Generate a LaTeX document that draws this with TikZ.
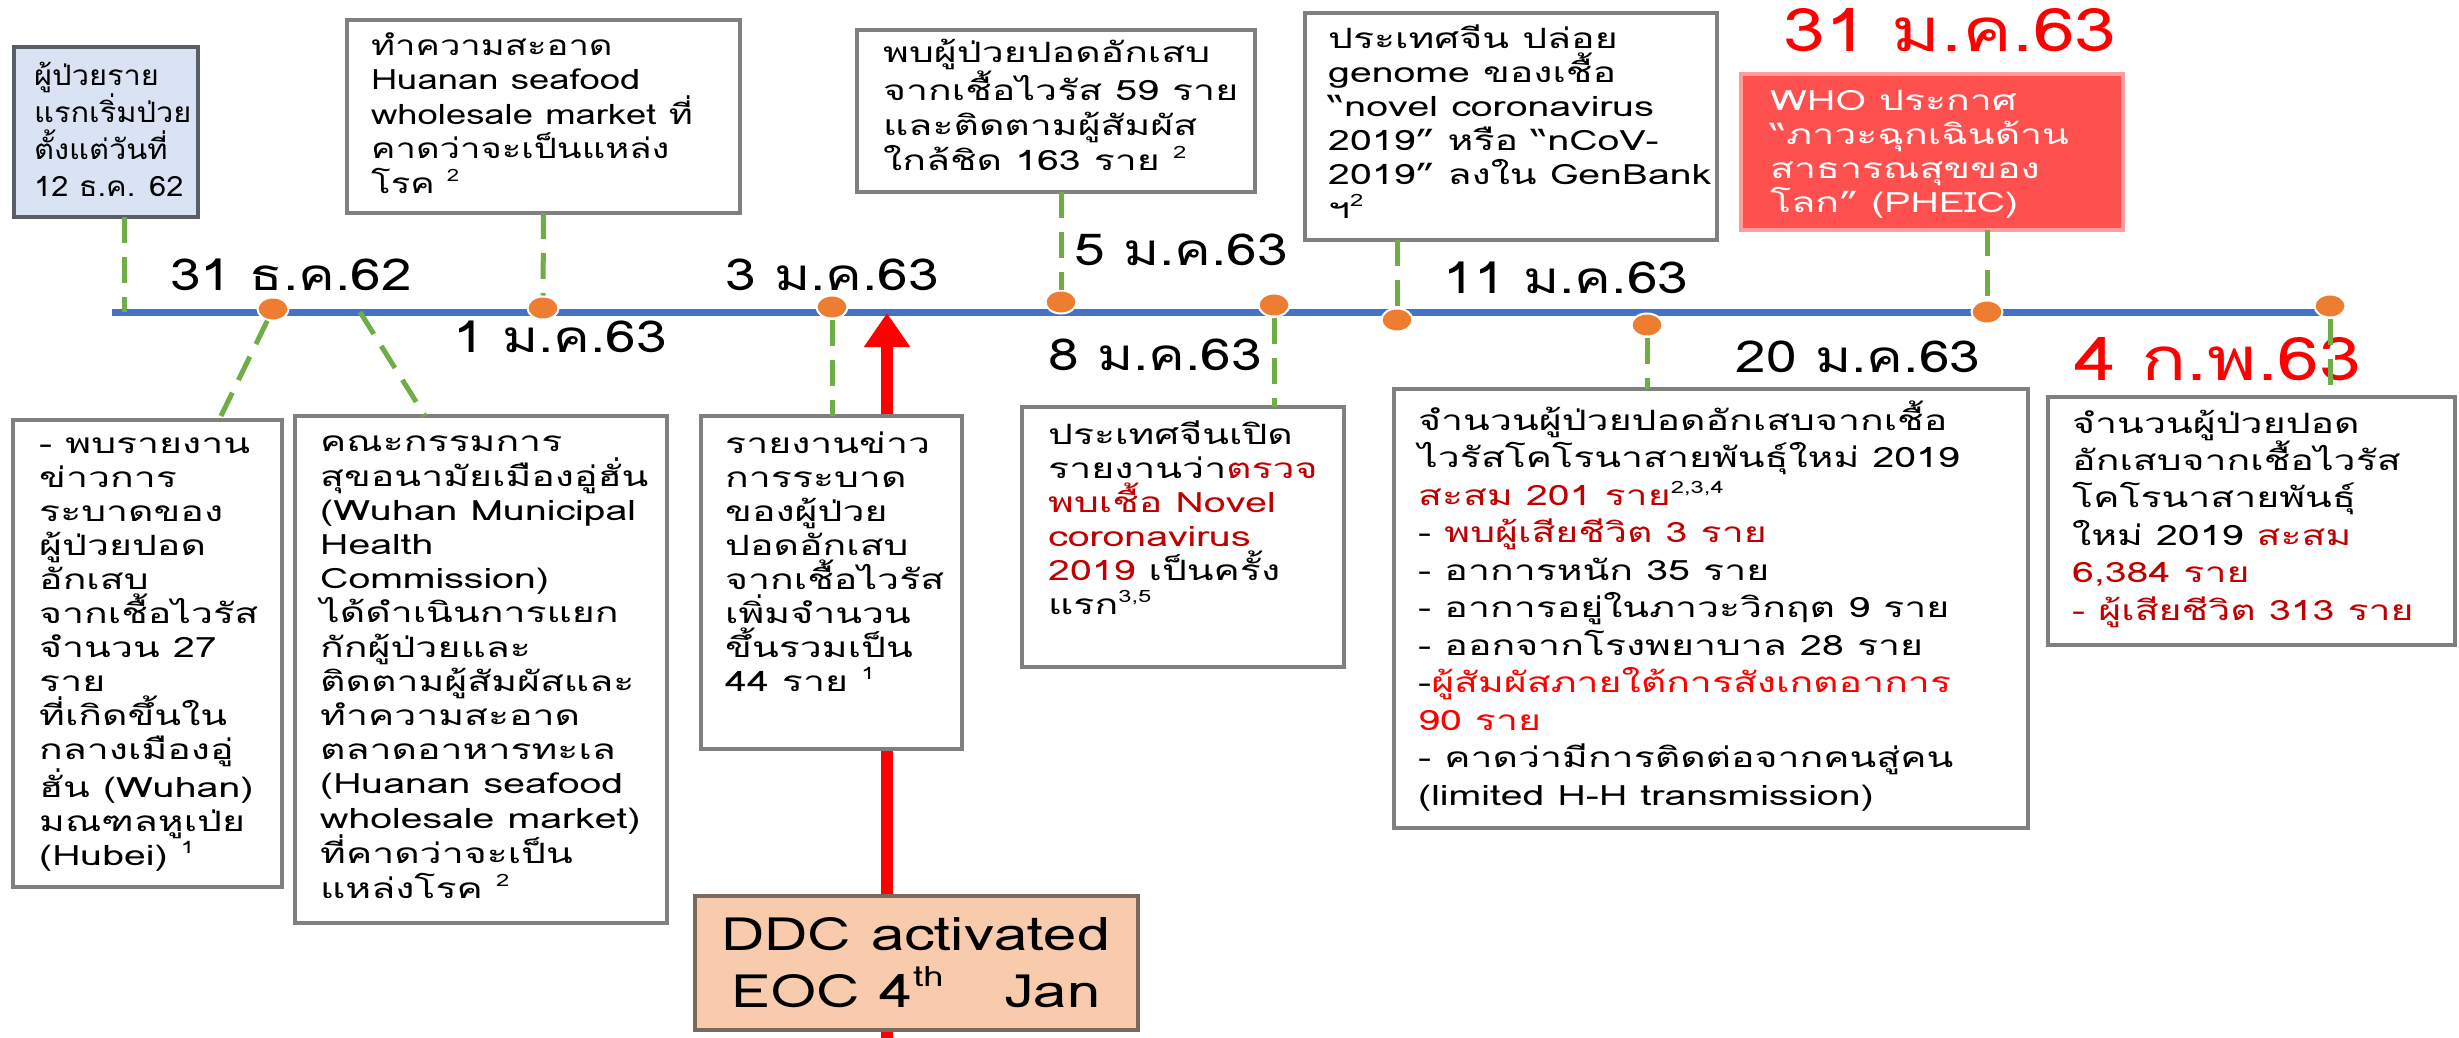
\documentclass[tikz,border=0pt]{standalone}
\usepackage{fontspec}
\setmainfont[Script=Thai,FakeStretch=1.4]{Loma}
\newfontfamily\datefont[Script=Thai,FakeStretch=1.25]{Loma}
\newfontfamily\ddcfont[FakeStretch=1.3]{Loma}
\newfontfamily\tonefont[Script=Thai,FakeStretch=1.1]{Loma}
\newfontfamily\ttwofont[Script=Thai,FakeStretch=1.3]{Loma}
\usetikzlibrary{arrows.meta,shapes.geometric}
\definecolor{tlblue}{HTML}{4472C4}
\definecolor{dotor}{HTML}{ED7D31}
\definecolor{gline}{HTML}{70AD47}
\definecolor{bgray}{HTML}{808080}
\definecolor{bdark}{HTML}{5A5E66}
\definecolor{bluefill}{HTML}{DAE3F3}
\definecolor{whofill}{HTML}{FF5050}
\definecolor{whoedge}{HTML}{FF9C9C}
\definecolor{ddcfill}{HTML}{F8CBAD}
\definecolor{ddcedge}{HTML}{7A6A5E}
\definecolor{dred}{HTML}{C00000}
\definecolor{bred}{HTML}{FF0000}
\newcommand\supx[1]{\raisebox{0.42em}{\fontsize{17}{17}\selectfont #1}}
\begin{document}
\begin{tikzpicture}[x=1pt,y=-1pt,
  frame/.style={draw=bgray, line width=4pt, fill=white, inner sep=0pt, outer sep=0pt, anchor=north west},
  btxt/.style={anchor=base west, inner sep=0pt, align=left, font=\fontsize{28}{34.2}\selectfont},
  datel/.style={anchor=base, inner sep=0pt, font=\datefont\fontsize{44}{44}\selectfont},
  bigdate/.style={anchor=base, inner sep=0pt, text=bred, font=\datefont\fontsize{60}{60}\selectfont},
  tdot/.style={ellipse, fill=dotor, draw=white, line width=2pt, minimum width=31pt, minimum height=23pt, inner sep=0pt},
  gdash/.style={draw=gline, line width=5pt, dash pattern=on 26pt off 14pt},
  tline/.style={draw=tlblue, line width=7pt},
  redarrow/.style={draw=bred, line width=12pt, -{Triangle[length=34pt,width=44pt]}}
]
\useasboundingbox[fill=white] (0,0) rectangle (2459,1038);
% timeline
\coordinate (tl0) at (112,312);
\coordinate (tl1) at (2330,312);
\draw[tline] (tl0) -- (tl1);
% red arrow
\coordinate (afoot) at (887,1045);
\coordinate (atip) at (887,313);
\draw[redarrow] (afoot) -- (atip);
% dots
\node[tdot] (d1) at (273,309) {};
\node[tdot] (d2) at (543,308) {};
\node[tdot] (d3) at (832,307) {};
\node[tdot] (d4) at (1061,302) {};
\node[tdot] (d5) at (1274,305) {};
\node[tdot] (d6) at (1397,320) {};
\node[tdot] (d7) at (1647,325) {};
\node[tdot] (d8) at (1987,312) {};
\node[tdot] (d9) at (2330,306) {};
% top boxes (base anchor = last line baseline)
\node[frame, fill=bluefill, draw=bdark, minimum width=184pt, minimum height=170pt] (T1) at (14,47) {};
\node[btxt, font=\tonefont\fontsize{28}{37}\selectfont] (T1t) at (34,196) {ผู้ป่วยราย\\แรกเริ่มป่วย\\ตั้งแต่วันที่\\12 ธ.ค. 62};
\node[frame, minimum width=393pt, minimum height=193pt] (T2) at (347,20) {};
\node[btxt, font=\ttwofont\fontsize{28}{34.5}\selectfont] (T2t) at (371,193) {ทำความสะอาด\\Huanan seafood\\wholesale market ที่\\คาดว่าจะเป็นแหล่ง\\โรค \supx{2}};
\node[frame, minimum width=398pt, minimum height=162pt] (T3) at (857,30) {};
\node[btxt, font=\fontsize{28}{35}\selectfont] (T3t) at (883,170) {พบผู้ป่วยปอดอักเสบ\\จากเชื้อไวรัส 59 ราย\\และติดตามผู้สัมผัส\\ใกล้ชิด 163 ราย \supx{2}};
\node[frame, minimum width=412pt, minimum height=227pt] (T4) at (1305,13) {};
\node[btxt, font=\fontsize{28}{34}\selectfont] (T4t) at (1328,218) {ประเทศจีน ปล่อย\\genome ของเชื้อ\\“novel coronavirus\\2019” หรือ “nCoV-\\2019” ลงใน GenBank\\ฯ\supx{2}};
\node[frame, fill=whofill, draw=whoedge, minimum width=382pt, minimum height=156pt] (WHO) at (1741,74) {};
\node[btxt, text=white, font=\fontsize{28}{34}\selectfont] (WHOt) at (1770,212) {WHO ประกาศ\\“ภาวะฉุกเฉินด้าน\\สาธารณสุขของ\\โลก” (PHEIC)};
% bottom boxes
\node[frame, minimum width=269pt, minimum height=467pt] (B1) at (13,420) {};
\node[btxt, font=\fontsize{28}{34}\selectfont] (B1t) at (39,865) {- พบรายงาน\\ข่าวการ\\ระบาดของ\\ผู้ป่วยปอด\\อักเสบ\\จากเชื้อไวรัส\\จำนวน 27\\ราย\\ที่เกิดขึ้นใน\\กลางเมืองอู่\\ฮั่น (Wuhan)\\มณฑลหูเป่ย\\(Hubei) \supx{1}};
\node[frame, minimum width=372pt, minimum height=507pt] (B2) at (295,416) {};
\node[btxt, font=\fontsize{28}{34.2}\selectfont] (B2t) at (320,898) {คณะกรรมการ\\สุขอนามัยเมืองอู่ฮั่น\\(Wuhan Municipal\\Health\\Commission)\\ได้ดำเนินการแยก\\กักผู้ป่วยและ\\ติดตามผู้สัมผัสและ\\ทำความสะอาด\\ตลาดอาหารทะเล\\(Huanan seafood\\wholesale market)\\ที่คาดว่าจะเป็น\\แหล่งโรค \supx{2}};
\node[frame, minimum width=261pt, minimum height=333pt] (B3) at (701,416) {};
\node[btxt, font=\fontsize{28}{34}\selectfont] (B3t) at (725,691) {รายงานข่าว\\การระบาด\\ของผู้ป่วย\\ปอดอักเสบ\\จากเชื้อไวรัส\\เพิ่มจำนวน\\ขึ้นรวมเป็น\\44 ราย \supx{1}};
\node[frame, minimum width=322pt, minimum height=260pt] (B4) at (1022,407) {};
\node[btxt, font=\fontsize{28}{34}\selectfont] (B4t) at (1048,614) {ประเทศจีนเปิด\\รายงานว่า\textcolor{dred}{ตรวจ}\\\textcolor{dred}{พบเชื้อ Novel}\\\textcolor{dred}{coronavirus}\\\textcolor{dred}{2019} เป็นครั้ง\\แรก\supx{3,5}};
\node[frame, minimum width=634pt, minimum height=439pt] (B5) at (1394,389) {};
\node[btxt, font=\fontsize{28}{37.5}\selectfont] (B5t) at (1418,805) {จำนวนผู้ป่วยปอดอักเสบจากเชื้อ\\ไวรัสโคโรนาสายพันธุ์ใหม่ 2019\\\textcolor{dred}{สะสม 201 ราย}\supx{2,3,4}\\- \textcolor{dred}{พบผู้เสียชีวิต 3 ราย}\\- อาการหนัก 35 ราย\\- อาการอยู่ในภาวะวิกฤต 9 ราย\\- ออกจากโรงพยาบาล 28 ราย\\-\textcolor{bred}{ผู้สัมผัสภายใต้การสังเกตอาการ}\\\textcolor{bred}{90 ราย}\\- คาดว่ามีการติดต่อจากคนสู่คน\\(limited H-H transmission)};
\node[frame, minimum width=407pt, minimum height=248pt] (B6) at (2048,397) {};
\node[btxt, font=\fontsize{28}{37.4}\selectfont] (B6t) at (2072,620) {จำนวนผู้ป่วยปอด\\อักเสบจากเชื้อไวรัส\\โคโรนาสายพันธุ์\\ใหม่ 2019 \textcolor{dred}{สะสม}\\\textcolor{dred}{6,384 ราย}\\\textcolor{dred}{- ผู้เสียชีวิต 313 ราย}};
% DDC box
\node[frame, fill=ddcfill, draw=ddcedge, minimum width=443pt, minimum height=134pt] (DDC) at (695,896) {};
\node[anchor=base, inner sep=0pt, align=center, font=\ddcfont\fontsize{46}{57}\selectfont] (DDCt) at (916,1007) {DDC activated\\EOC 4\raisebox{0.45em}{\fontsize{28}{28}\selectfont th}\ \ \ Jan};
% date labels
\node[datel] (L1) at (291,290) {31 ธ.ค.62};
\node[datel] (L2) at (560,352) {1 ม.ค.63};
\node[datel] (L3) at (832,290) {3 ม.ค.63};
\node[datel] (L4) at (1181,265) {5 ม.ค.63};
\node[datel] (L5) at (1155,370) {8 ม.ค.63};
\node[datel] (L6) at (1566,293) {11 ม.ค.63};
\node[datel] (L7) at (1858,372) {20 ม.ค.63};
\node[bigdate] (L8) at (1950,52) {31 ม.ค.63};
\node[bigdate] (L9) at (2218,380) {4 ก.พ.63};
% green connectors
\coordinate (c1) at (124,312);
\draw[gdash] (T1.south -| c1) -- (c1);
\coordinate (b1in) at (219,420);
\draw[gdash] (d1) -- (b1in);
\coordinate (r1) at (360,312);
\coordinate (b2in) at (425,416);
\draw[gdash] (r1) -- (b2in);
\draw[gdash] (T2.south) -- (d2);
\draw[gdash] (d3) -- (d3 |- B3.north);
\draw[gdash] (T3.south -| d4) -- (d4);
\draw[gdash] (d5) -- (d5 |- B4.north);
\draw[gdash] (T4.south -| d6) -- (d6);
\draw[gdash] (d7) -- (d7 |- B5.north);
\draw[gdash] (WHO.south -| d8) -- (d8);
\draw[gdash] (d9) -- (d9 |- B6.north);
\end{tikzpicture}
\end{document}
